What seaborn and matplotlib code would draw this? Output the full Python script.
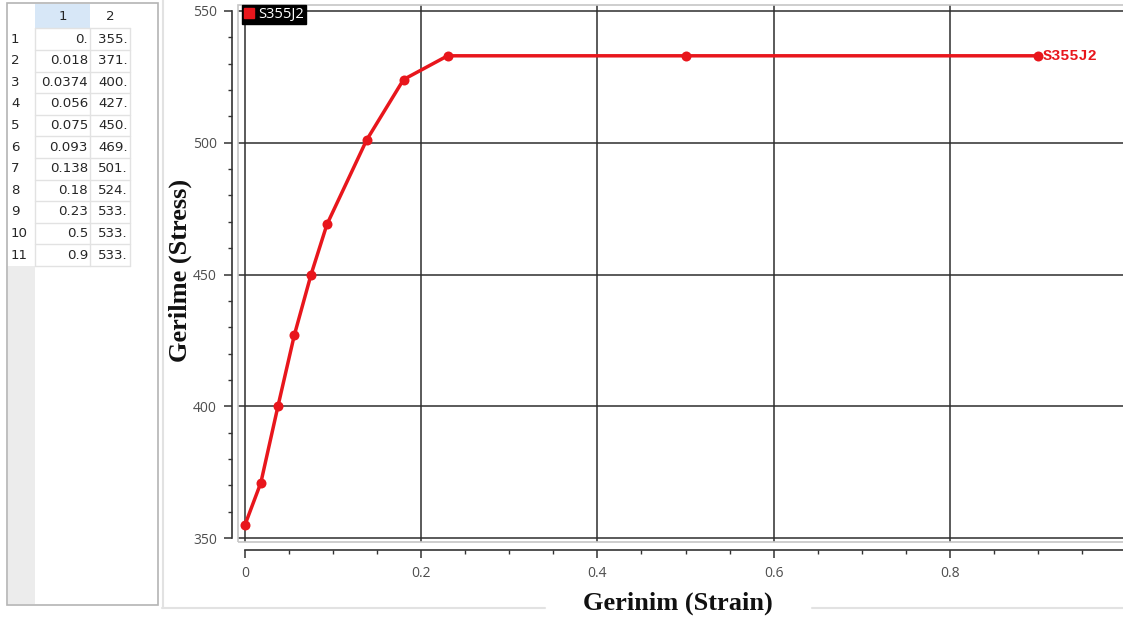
import matplotlib
matplotlib.use("Agg")
import matplotlib.pyplot as plt
import pandas as pd
import seaborn as sns
from matplotlib.lines import Line2D
from matplotlib.patches import Rectangle
from matplotlib.ticker import MultipleLocator, FuncFormatter

# Stress-strain points for the material curve
strain = [0.0, 0.018, 0.0374, 0.056, 0.075, 0.093, 0.138, 0.18, 0.23, 0.5, 0.9]
stress = [355, 371, 400, 427, 450, 469, 501, 524, 533, 533, 533]
series_name = "S355J2"
x_label = "Gerinim (Strain)"
y_label = "Gerilme (Stress)"
table_headers = ["1", "2"]
x_ticks = [0, 0.2, 0.4, 0.6, 0.8, 1.0]
y_ticks = [350, 400, 450, 500, 550]

RED = "#e8161c"
W, H = 1123, 621

sns.set_theme(style="ticks")
plt.rcParams["font.family"] = ["Open Sans", "DejaVu Sans"]

fig = plt.figure(figsize=(W / 100, H / 100), dpi=100)
fig.patch.set_facecolor("white")

# ---------- pixel overlay: data table and panel borders ----------
ov = fig.add_axes([0, 0, 1, 1], zorder=0)
ov.set_xlim(0, W)
ov.set_ylim(H, 0)
ov.axis("off")

col_edges = [7, 35, 90, 130]
head_top, head_bot, row_h = 4, 28.3, 21.6
n = len(strain)
tab_bottom = head_bot + n * row_h

# gray row-header strip below the rows
ov.add_patch(Rectangle((8, tab_bottom), 27, 604 - tab_bottom, fc="#ececec", ec="none"))
# highlighted header cell
ov.add_patch(Rectangle((col_edges[1], head_top), col_edges[2] - col_edges[1],
                       head_bot - head_top, fc="#d7e7f7", ec="none"))
# cell lines
for i in range(n + 1):
    yy = head_bot + i * row_h
    ov.plot([col_edges[1], col_edges[3]], [yy, yy], color="#e2e2e2", lw=1)
for xx in col_edges[1:]:
    ov.plot([xx, xx], [head_bot, tab_bottom], color="#e2e2e2", lw=1)
# outer border of the table panel
ov.add_patch(Rectangle((7, 3), 151, 602, fc="none", ec="#b4b4b4", lw=1.2))


def fmt_num(v):
    s = f"{v:g}"
    return s if "." in s else s + "."


tab_font = dict(fontsize=9.6, color="#262626", va="center", family="DejaVu Sans")
ov.text((col_edges[1] + col_edges[2]) / 2, 16, table_headers[0], ha="center", **tab_font)
ov.text((col_edges[2] + col_edges[3]) / 2, 16, table_headers[1], ha="center", **tab_font)
for i, (sx, sy) in enumerate(zip(strain, stress)):
    yc = head_bot + (i + 0.5) * row_h
    ov.text(11, yc, str(i + 1), ha="left", **tab_font)
    ov.text(col_edges[2] - 2, yc, fmt_num(sx), ha="right", **tab_font)
    ov.text(col_edges[3] - 2, yc, fmt_num(sy), ha="right", **tab_font)

# plot panel borders
ov.plot([162.5, 162.5], [0, 607.5], color="#e2e2e2", lw=1.5)
ov.plot([162, 545], [607.5, 607.5], color="#e2e2e2", lw=1.5)
ov.plot([812, W], [607.5, 607.5], color="#e2e2e2", lw=1.5)

# ---------- main chart ----------
L, R, T, B = 238, 1126, 5, 542
ax = fig.add_axes([L / W, (H - B) / H, (R - L) / W, (B - T) / H], zorder=2)
ax.set_facecolor("white")

x_px_per_unit = 881.0
y_px_per_unit = 527.0 / 200.0
ax.set_xlim(-(245 - L) / x_px_per_unit, 1.0)
ax.set_ylim(350 - (B - 538) / y_px_per_unit, 550 + (11 - T) / y_px_per_unit)

df = pd.DataFrame({"strain": strain, "stress": stress})
sns.lineplot(data=df, x="strain", y="stress", ax=ax, sort=False, color=RED,
             lw=2.5, marker="o", markersize=7.2, markeredgewidth=0, zorder=4)

ax.annotate(series_name, (strain[-1], stress[-1]), xytext=(3.5, 0),
            textcoords="offset points", color=RED, fontfamily="Liberation Mono",
            fontweight="bold", fontsize=11, ha="left", va="center", zorder=5)

# light outer frame of the plotting area
ax.add_patch(Rectangle((0, 0), 1, 1, transform=ax.transAxes, fill=False,
                       ec="#c6c6c6", lw=1.2, clip_on=False, zorder=1))

ax.set_xticks(x_ticks)
ax.set_yticks(y_ticks)
ax.xaxis.set_minor_locator(MultipleLocator(0.05))
ax.yaxis.set_minor_locator(MultipleLocator(10))
ax.xaxis.set_major_formatter(FuncFormatter(lambda v, p: f"{v:g}"))
ax.yaxis.set_major_formatter(FuncFormatter(lambda v, p: f"{v:g}"))
ax.grid(True, which="major", color="#2e2e2e", lw=1.1)
ax.set_axisbelow(True)

for s in ("top", "right"):
    ax.spines[s].set_visible(False)
ax.spines["left"].set_position(("outward", 4))
ax.spines["left"].set_bounds(350, 550)
ax.spines["bottom"].set_position(("outward", 5.8))
ax.spines["bottom"].set_bounds(0, 1.0)
for s in ("left", "bottom"):
    ax.spines[s].set_color("#333333")
    ax.spines[s].set_linewidth(1.2)

ax.tick_params(axis="both", which="major", direction="out", length=5.8, width=1.1,
               color="#333333", labelcolor="#4e4e4e", labelsize=10, pad=5.5)
ax.tick_params(axis="both", which="minor", direction="out", length=3, width=1.0,
               color="#333333")

ax.set_xlabel(x_label, fontfamily="Liberation Serif", fontweight="bold",
              fontsize=19, color="#111111")
ax.set_ylabel(y_label, fontfamily="Liberation Serif", fontweight="bold",
              fontsize=19, color="#111111")
ax.xaxis.set_label_coords((678 - L) / (R - L), -(592 - B) / (B - T))
ax.yaxis.set_label_coords(-(L - 192) / (R - L), (B - 270) / (B - T))

# legend box in the upper-left corner
handle = Line2D([], [], marker="s", color=RED, ls="", markersize=6.5)
leg = ax.legend([handle], [series_name], loc="upper left", bbox_to_anchor=(0.005, 1.0),
                borderaxespad=0, frameon=True, fancybox=False, framealpha=1,
                facecolor="black", edgecolor="black", handlelength=0.6,
                handletextpad=0.35, borderpad=0.15, fontsize=10.5)
for t in leg.get_texts():
    t.set_color("white")
leg.set_zorder(6)

fig.savefig("out.png", dpi=100, facecolor="white")
